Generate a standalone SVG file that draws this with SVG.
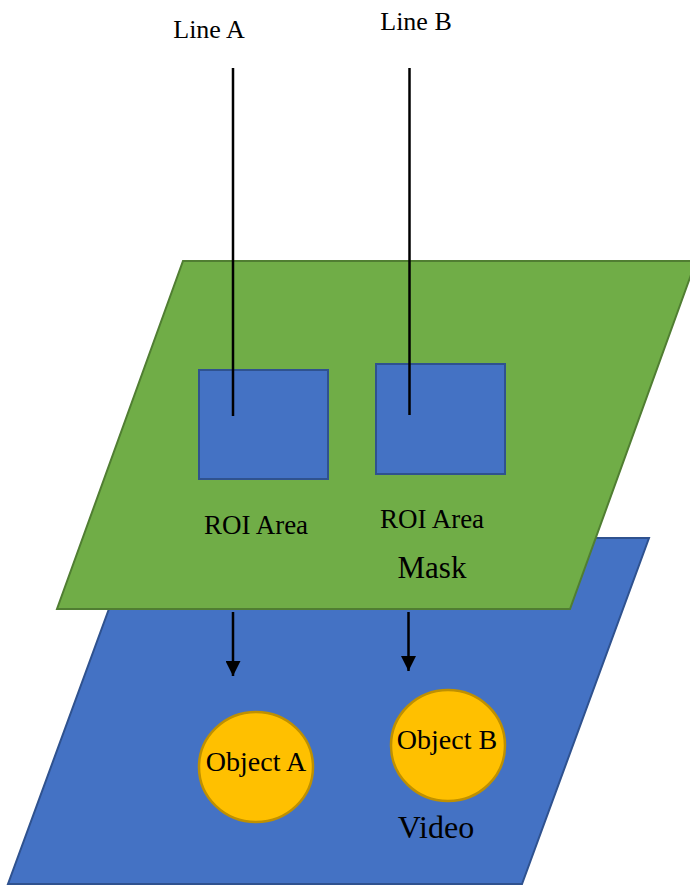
<svg xmlns="http://www.w3.org/2000/svg" width="690" height="886" viewBox="0 0 690 886">
<defs>
<style>
text{font-family:"Liberation Serif","Times New Roman",serif;fill:#000;text-anchor:middle}
.t26{font-size:26px}.t27{font-size:27px}.t28{font-size:28px}.t31{font-size:31px}.t32{font-size:32px}
.blue{fill:#4472C4;stroke:#2F528F;stroke-width:2}
.green{fill:#70AD47;stroke:#507E32;stroke-width:2}
.obj{fill:#FFC000;stroke:#BF9000;stroke-width:2.5}
.ln{stroke:#000;stroke-width:2.5;fill:none}
</style>
<marker id="ah" viewBox="0 0 10 10" refX="10" refY="5" markerWidth="6" markerHeight="6" markerUnits="strokeWidth" orient="auto">
<path d="M0,0 L10,5 L0,10 z" fill="#000"/>
</marker>
</defs>
<rect width="690" height="886" fill="#fff"/>
<g id="video">
<polygon class="blue" points="135,538 649,538 522,884 8,884"/>
<text class="t32" x="436" y="838">Video</text>
</g>
<g id="mask">
<polygon class="green" points="183,261 696,261 570,609 57,609"/>
<text class="t31" x="432" y="578">Mask</text>
</g>
<g id="roiA">
<rect class="blue" x="199" y="370" width="129" height="109"/>
<text class="t27" x="256" y="534">ROI Area</text>
</g>
<g id="roiB">
<rect class="blue" x="376" y="364" width="129" height="110"/>
<text class="t27" x="432" y="528">ROI Area</text>
</g>
<g id="objA">
<ellipse class="obj" cx="256" cy="767" rx="57" ry="55"/>
<text class="t28" x="256" y="771">Object A</text>
</g>
<g id="objB">
<ellipse class="obj" cx="448" cy="745.5" rx="57" ry="55.5"/>
<text class="t28" x="447" y="749">Object B</text>
</g>
<g id="labelA"><text class="t26" x="209" y="38">Line A</text></g>
<g id="labelB"><text class="t26" x="416" y="30">Line B</text></g>
<g id="connectors">
<line class="ln" x1="233" y1="68" x2="233" y2="416"/>
<line class="ln" x1="409.5" y1="68" x2="409.5" y2="415"/>
<line class="ln" x1="233" y1="612" x2="233" y2="676" marker-end="url(#ah)"/>
<line class="ln" x1="408.5" y1="612" x2="408.5" y2="671" marker-end="url(#ah)"/>
</g>
</svg>
